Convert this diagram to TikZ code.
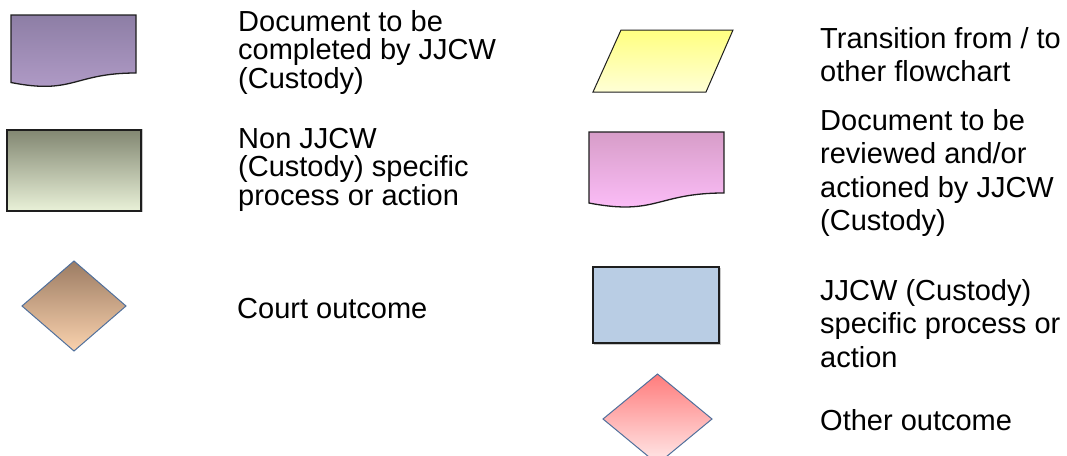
\documentclass[tikz,border=0pt]{standalone}
\usepackage{fontspec}
\setmainfont{Liberation Sans}
\usetikzlibrary{calc}

\definecolor{edgedark}{HTML}{1E1E1E}
\definecolor{edgeblue}{HTML}{50709C}
\definecolor{shadowgray}{HTML}{C8C8C8}
\definecolor{purpletop}{HTML}{8D7EA5}
\definecolor{purplelow}{HTML}{B39DC9}
\definecolor{pinktop}{HTML}{D79DC8}
\definecolor{pinklow}{HTML}{FFC0FC}
\definecolor{greytop}{HTML}{828772}
\definecolor{greylow}{HTML}{E9F1D8}
\definecolor{bluefill}{HTML}{B9CDE4}
\definecolor{yellowtop}{HTML}{FFFF80}
\definecolor{yellowlow}{HTML}{FFFFD6}
\definecolor{courttop}{HTML}{9C7C63}
\definecolor{courtlow}{HTML}{FAD2AE}
\definecolor{othertop}{HTML}{FF7C7C}
\definecolor{otherlow}{HTML}{FFEAEA}

% multi-line labels are placed by the baseline of their last line
\tikzset{
  legendtxt/.style={anchor=base west, inner sep=0pt, align=left, text=black},
  lefttxt/.style={legendtxt, font=\fontsize{29}{28.5}\selectfont},
  righttxt/.style={legendtxt, font=\fontsize{29}{33.5}\selectfont},
  boxedge/.style={draw=edgedark, line width=1.3pt},
  diamondedge/.style={draw=edgeblue, line width=1pt},
  docpurple/.style={boxedge, top color=purpletop, middle color=purplelow, bottom color=purplelow},
  docpink/.style={boxedge, top color=pinktop, middle color=pinklow, bottom color=pinklow},
  greybox/.style={boxedge, top color=greytop, bottom color=greylow},
  bluebox/.style={boxedge, fill=bluefill},
  transfill/.style={draw=edgedark, line width=1pt, top color=yellowtop, bottom color=yellowlow},
  courtfill/.style={diamondedge, top color=courttop, bottom color=courtlow},
  otherfill/.style={diamondedge, top color=othertop, bottom color=otherlow},
}

\begin{document}
\begin{tikzpicture}[x=1pt, y=-1pt]
\useasboundingbox (0,0) rectangle (1067,455);
\clip (0,0) rectangle (1067,455);

% ---- left column ----
% document completed by JJCW (Custody)
\path[docpurple] (11,15) -- (136,15) -- (136,73)
  .. controls (73.5,73) and (73.5,95) .. (11,82.5) -- cycle;
\node[lefttxt] (docA) at (238,88) {Document to be\\completed by JJCW\\(Custody)};

% non JJCW process
\draw[shadowgray, line width=1pt] (8,129.5) -- (142,129.5) -- (142,212);
\path[greybox] (7,130) rectangle (141,211);
\node[lefttxt] (procA) at (238,205) {Non JJCW\\(Custody) specific\\process or action};

% court outcome
\path[courtfill] (22,306) -- (74,261) -- (126,306) -- (74,351) -- cycle;
\node[lefttxt] (court) at (237,318) {Court outcome};

% ---- right column ----
% transition to other flowchart
\path[transfill] (621,30) -- (733,30) -- (706,92) -- (593,92) -- cycle;
\node[righttxt] (trans) at (820,81.5) {Transition from / to\\other flowchart};

% document reviewed by JJCW (Custody)
\path[docpink] (589,132) -- (724,132) -- (724,193)
  .. controls (656.5,193) and (656.5,216) .. (589,203) -- cycle;
\node[righttxt] (docB) at (820,230.5) {Document to be\\reviewed and/or\\actioned by JJCW\\(Custody)};

% JJCW process
\draw[shadowgray, line width=1.2pt] (594,344) -- (720,344) -- (720,268);
\path[bluebox] (593,267) rectangle (719,343);
\node[righttxt] (procB) at (820,367) {JJCW (Custody)\\specific process or\\action};

% other outcome
\path[otherfill] (603,419) -- (657.5,374) -- (712,419) -- (657.5,464) -- cycle;
\node[righttxt] (other) at (820,430) {Other outcome};
\end{tikzpicture}
\end{document}
